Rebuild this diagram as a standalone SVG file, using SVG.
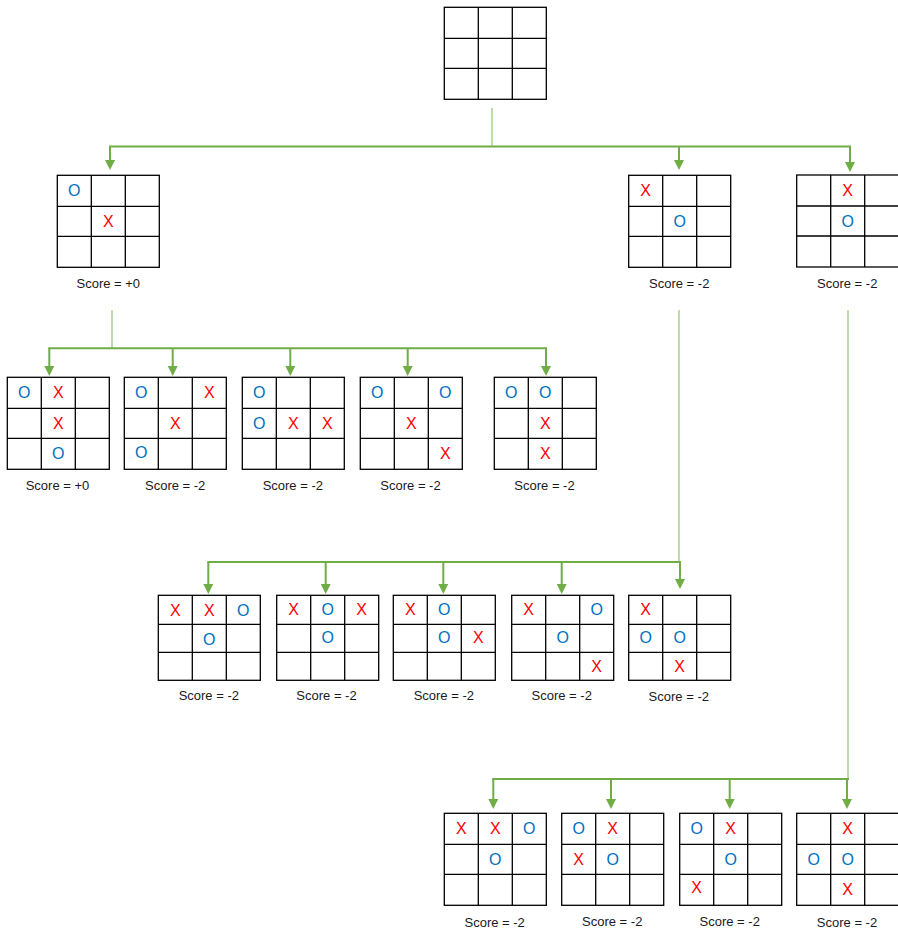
<svg xmlns="http://www.w3.org/2000/svg" width="898" height="935" viewBox="0 0 898 935">
<style>
.g{fill:#fff;stroke:#000;stroke-width:1.3}
.x{fill:#ff0000;font-family:"Liberation Sans",Arial,sans-serif;font-size:16px;text-anchor:middle}
.o{fill:#0070c0;font-family:"Liberation Sans",Arial,sans-serif;font-size:16px;text-anchor:middle}
.s{fill:#1a1a1a;font-family:"Liberation Sans",Arial,sans-serif;font-size:13px;text-anchor:middle}
.c{fill:none;stroke:#70ad47;stroke-width:2}
.h{fill:none;stroke:#70ad47;stroke-width:2;stroke-linecap:square}
.st{fill:none;stroke:#a9d18e;stroke-width:1.5}
</style>
<defs>
<marker id="ah" markerUnits="userSpaceOnUse" markerWidth="10" markerHeight="10" refX="2" refY="5" orient="auto"><path d="M0,0 L10,5 L0,10 z" fill="#70ad47"/></marker>
<g id="grid"><rect class="g" x="0" y="0" width="102" height="92"/><path class="g" d="M34,0V92M68,0V92M0,31H102M0,61H102"/></g>
<g id="grid3"><rect class="g" x="0" y="0" width="102" height="85"/><path class="g" d="M34,0V85M68,0V85M0,29H102M0,57H102"/></g>
</defs>

<g id="connectors">
<line class="st" x1="492" y1="108" x2="492" y2="146.5"/>
<line class="h" x1="110" y1="146.5" x2="850" y2="146.5"/>
<path class="c" d="M110,146.5V162" marker-end="url(#ah)"/>
<path class="c" d="M679,146.5V162" marker-end="url(#ah)"/>
<path class="c" d="M850,146.5V164" marker-end="url(#ah)"/>

<line class="st" x1="112" y1="310" x2="112" y2="348.3"/>
<line class="h" x1="49.3" y1="348.3" x2="546" y2="348.3"/>
<path class="c" d="M49.3,348.3V368" marker-end="url(#ah)"/>
<path class="c" d="M172.7,348.3V368" marker-end="url(#ah)"/>
<path class="c" d="M290.3,348.3V368" marker-end="url(#ah)"/>
<path class="c" d="M407.7,348.3V368" marker-end="url(#ah)"/>
<path class="c" d="M546,348.3V368" marker-end="url(#ah)"/>

<line class="st" x1="679" y1="310" x2="679" y2="562"/>
<line class="h" x1="208.3" y1="562" x2="680" y2="562"/>
<path class="c" d="M208.3,562V586" marker-end="url(#ah)"/>
<path class="c" d="M325.7,562V586" marker-end="url(#ah)"/>
<path class="c" d="M443.3,562V586" marker-end="url(#ah)"/>
<path class="c" d="M561.7,562V586" marker-end="url(#ah)"/>
<path class="c" d="M680,562V581" marker-end="url(#ah)"/>

<line class="st" x1="848" y1="310" x2="848" y2="779"/>
<line class="h" x1="493.3" y1="779" x2="848" y2="779"/>
<path class="c" d="M493.3,779V801" marker-end="url(#ah)"/>
<path class="c" d="M611,779V801" marker-end="url(#ah)"/>
<path class="c" d="M729.7,779V801" marker-end="url(#ah)"/>
<path class="c" d="M847,779V801" marker-end="url(#ah)"/>
</g>

<g id="root" transform="translate(444.3,7.3)"><use href="#grid"/></g>

<g id="a" transform="translate(57.3,175.3)"><use href="#grid"/>
<text class="o" x="17" y="21.2">O</text><text class="x" x="51" y="51.7">X</text>
<text class="s" x="51" y="113">Score = +0</text></g>

<g id="b" transform="translate(628.7,175.3)"><use href="#grid"/>
<text class="x" x="17" y="21.2">X</text><text class="o" x="51" y="51.7">O</text>
<text class="s" x="50.5" y="113">Score = -2</text></g>

<g id="c" transform="translate(796.7,175)"><use href="#grid"/>
<text class="x" x="51" y="21.2">X</text><text class="o" x="51" y="51.7">O</text>
<text class="s" x="50.5" y="113.3">Score = -2</text></g>

<g id="d1" transform="translate(7.3,377.3)"><use href="#grid"/>
<text class="o" x="17" y="21.2">O</text><text class="x" x="51" y="21.2">X</text>
<text class="x" x="51" y="51.7">X</text><text class="o" x="51" y="82.2">O</text>
<text class="s" x="50.2" y="112.5">Score = +0</text></g>

<g id="d2" transform="translate(124.3,377.3)"><use href="#grid"/>
<text class="o" x="17" y="21.2">O</text><text class="x" x="85" y="21.2">X</text>
<text class="x" x="51" y="51.7">X</text><text class="o" x="17" y="81">O</text>
<text class="s" x="50.9" y="112.5">Score = -2</text></g>

<g id="d3" transform="translate(242.3,377.3)"><use href="#grid"/>
<text class="o" x="17" y="21.2">O</text><text class="o" x="17" y="51.7">O</text>
<text class="x" x="51" y="51.7">X</text><text class="x" x="85" y="51.7">X</text>
<text class="s" x="50.5" y="112.5">Score = -2</text></g>

<g id="d4" transform="translate(360.3,377.3)"><use href="#grid"/>
<text class="o" x="17" y="21.2">O</text><text class="o" x="85" y="21.2">O</text>
<text class="x" x="51" y="51.7">X</text><text class="x" x="85" y="82.2">X</text>
<text class="s" x="50.2" y="112.5">Score = -2</text></g>

<g id="d5" transform="translate(494.3,377.3)"><use href="#grid"/>
<text class="o" x="17" y="21.2">O</text><text class="o" x="51" y="21.2">O</text>
<text class="x" x="51" y="51.7">X</text><text class="x" x="51" y="82.2">X</text>
<text class="s" x="50.2" y="112.5">Score = -2</text></g>

<g id="e1" transform="translate(158.3,595.3)"><use href="#grid3"/>
<text class="x" x="17" y="20.7">X</text><text class="x" x="51" y="20.7">X</text>
<text class="o" x="85" y="20.7">O</text><text class="o" x="51" y="49.7">O</text>
<text class="s" x="50.5" y="104.5">Score = -2</text></g>

<g id="e2" transform="translate(276.7,595.3)"><use href="#grid3"/>
<text class="x" x="17" y="20">X</text><text class="o" x="51" y="20">O</text>
<text class="x" x="85" y="20">X</text><text class="o" x="51" y="48">O</text>
<text class="s" x="49.8" y="104.5">Score = -2</text></g>

<g id="e3" transform="translate(393.3,595.3)"><use href="#grid3"/>
<text class="x" x="17" y="20">X</text><text class="o" x="51" y="20">O</text>
<text class="o" x="51" y="48">O</text><text class="x" x="85" y="48">X</text>
<text class="s" x="50.5" y="104.5">Score = -2</text></g>

<g id="e4" transform="translate(511.7,595.3)"><use href="#grid3"/>
<text class="x" x="17" y="20">X</text><text class="o" x="85" y="20">O</text>
<text class="o" x="51" y="48">O</text><text class="x" x="85" y="76.5">X</text>
<text class="s" x="50" y="104.5">Score = -2</text></g>

<g id="e5" transform="translate(628.7,595.3)"><use href="#grid3"/>
<text class="x" x="17" y="20">X</text><text class="o" x="17" y="48">O</text>
<text class="o" x="51" y="48">O</text><text class="x" x="51" y="76.5">X</text>
<text class="s" x="50.1" y="105.7">Score = -2</text></g>

<g id="f1" transform="translate(444.3,813.3)"><use href="#grid"/>
<text class="x" x="17" y="21">X</text><text class="x" x="51" y="21">X</text>
<text class="o" x="85" y="21">O</text><text class="o" x="51" y="51.5">O</text>
<text class="s" x="50.4" y="113.5">Score = -2</text></g>

<g id="f2" transform="translate(561.7,813.3)"><use href="#grid"/>
<text class="o" x="17" y="21">O</text><text class="x" x="51" y="21">X</text>
<text class="x" x="17" y="51.5">X</text><text class="o" x="51" y="51.5">O</text>
<text class="s" x="50.5" y="113">Score = -2</text></g>

<g id="f3" transform="translate(679.7,813.3)"><use href="#grid"/>
<text class="o" x="17" y="21">O</text><text class="x" x="51" y="21">X</text>
<text class="o" x="51" y="51.5">O</text><text class="x" x="17" y="80">X</text>
<text class="s" x="50" y="113">Score = -2</text></g>

<g id="f4" transform="translate(796.7,813.3)"><use href="#grid"/>
<text class="x" x="51" y="21">X</text><text class="o" x="17" y="51.5">O</text>
<text class="o" x="51" y="51.5">O</text><text class="x" x="51" y="82">X</text>
<text class="s" x="50.3" y="114">Score = -2</text></g>
</svg>
